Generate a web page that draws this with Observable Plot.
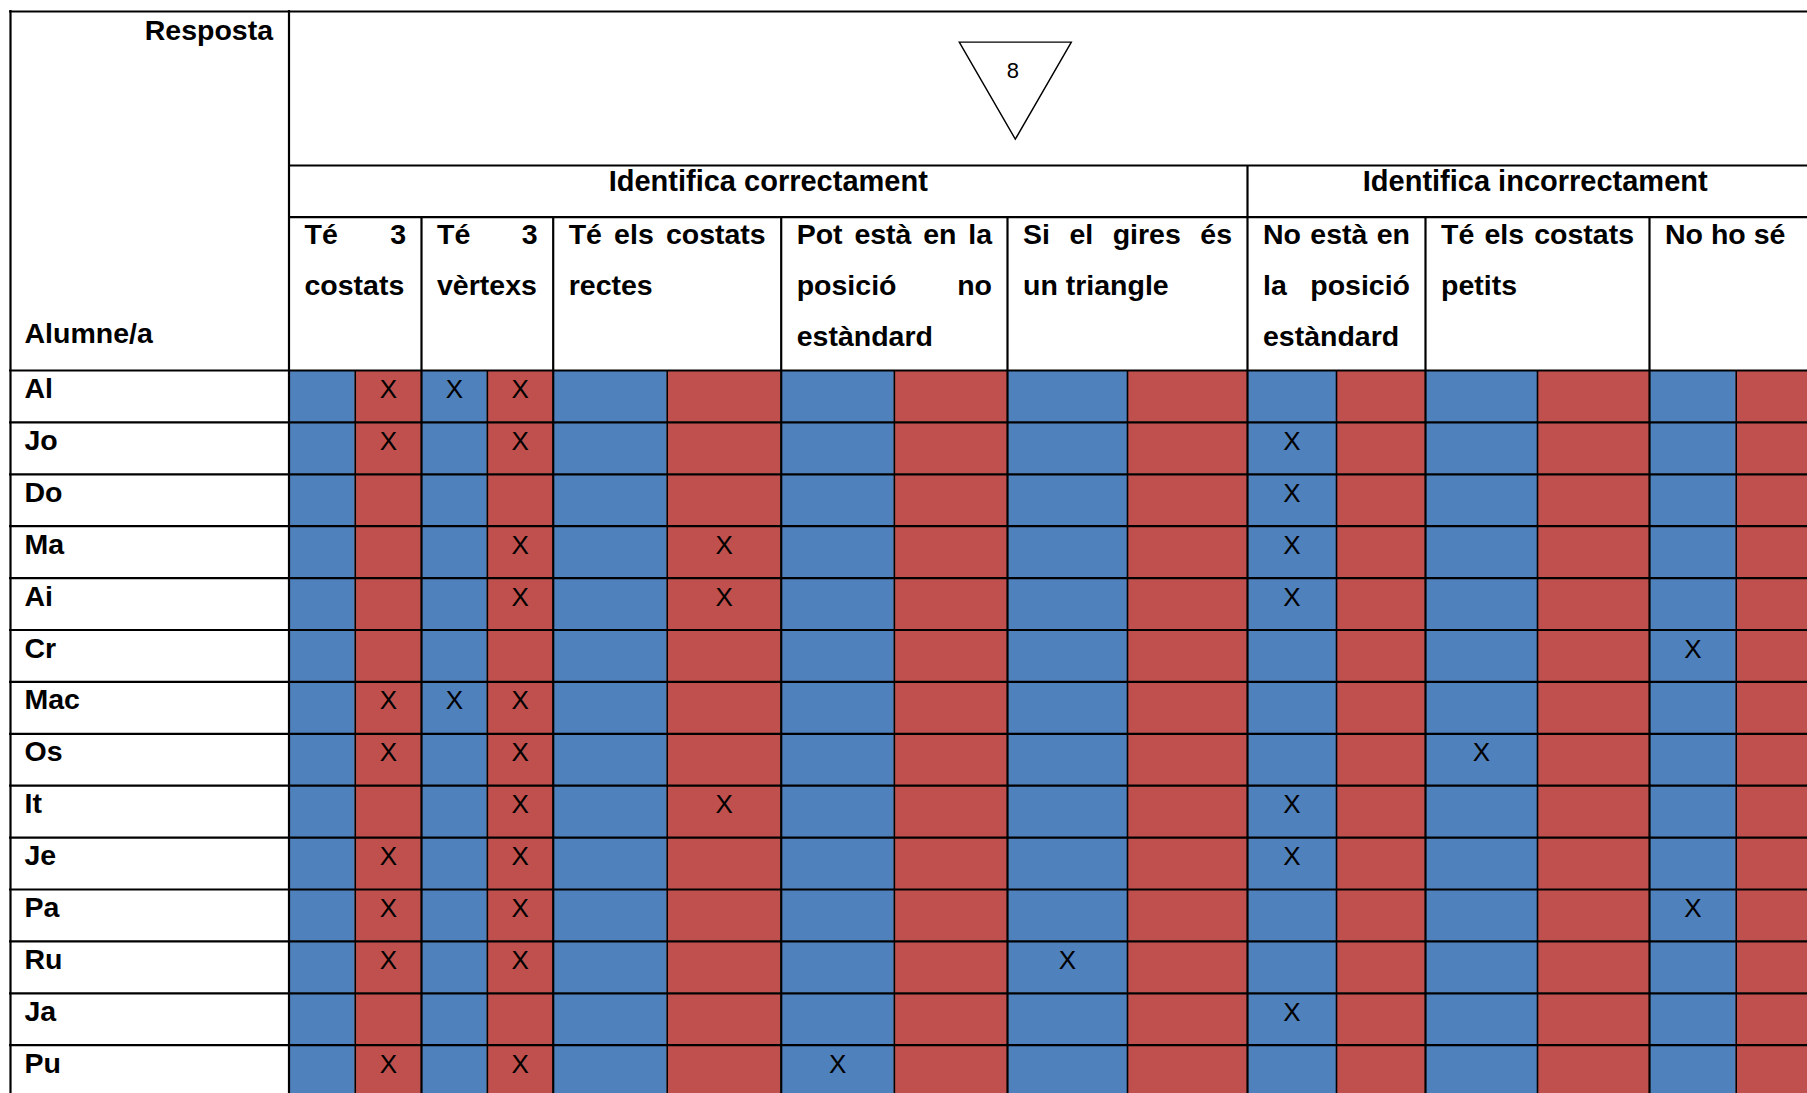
<!DOCTYPE html>
<html>
<head>
<meta charset="utf-8">
<script src="https://cdn.jsdelivr.net/npm/d3@7"></script>
<script src="https://cdn.jsdelivr.net/npm/@observablehq/plot@0.6"></script>
<style>
  html, body { margin: 0; padding: 0; background: #fff; overflow: hidden; }
  #chart { width: 1807px; height: 1093px; overflow: hidden; }
</style>
</head>
<body>
<div id="chart"></div>
<script>
// ---------------- DATA ----------------
const colHeader = "Resposta";
const rowHeader = "Alumne/a";
const itemShape = "triangle";
const itemLabel = "8";

const students = ["Al", "Jo", "Do", "Ma", "Ai", "Cr", "Mac", "Os", "It", "Je", "Pa", "Ru", "Ja", "Pu"];

const groupTitles = ["Identifica correctament", "Identifica incorrectament"];

const criteria = [
  "Té 3 costats",
  "Té 3 vèrtexs",
  "Té els costats rectes",
  "Pot està en la posició no estàndard",
  "Si el gires és un triangle",
  "No està en la posició estàndard",
  "Té els costats petits",
  "No ho sé"
];
const criterionGroup = [0, 0, 0, 0, 0, 1, 1, 1];
// line breaks as printed in the header cells
const criterionLines = [
  ["Té 3", "costats"],
  ["Té 3", "vèrtexs"],
  ["Té els costats", "rectes"],
  ["Pot està en la", "posició no", "estàndard"],
  ["Si el gires és", "un triangle"],
  ["No està en", "la posició", "estàndard"],
  ["Té els costats", "petits"],
  ["No ho sé"]
];

// each criterion column is split in two halves
const halves = ["blau", "vermell"];

// cells marked with an X: [student, criterion, half]
const answers = [
  ["Al", "Té 3 costats", "vermell"], ["Al", "Té 3 vèrtexs", "blau"], ["Al", "Té 3 vèrtexs", "vermell"],
  ["Jo", "Té 3 costats", "vermell"], ["Jo", "Té 3 vèrtexs", "vermell"], ["Jo", "No està en la posició estàndard", "blau"],
  ["Do", "No està en la posició estàndard", "blau"],
  ["Ma", "Té 3 vèrtexs", "vermell"], ["Ma", "Té els costats rectes", "vermell"], ["Ma", "No està en la posició estàndard", "blau"],
  ["Ai", "Té 3 vèrtexs", "vermell"], ["Ai", "Té els costats rectes", "vermell"], ["Ai", "No està en la posició estàndard", "blau"],
  ["Cr", "No ho sé", "blau"],
  ["Mac", "Té 3 costats", "vermell"], ["Mac", "Té 3 vèrtexs", "blau"], ["Mac", "Té 3 vèrtexs", "vermell"],
  ["Os", "Té 3 costats", "vermell"], ["Os", "Té 3 vèrtexs", "vermell"], ["Os", "Té els costats petits", "blau"],
  ["It", "Té 3 vèrtexs", "vermell"], ["It", "Té els costats rectes", "vermell"], ["It", "No està en la posició estàndard", "blau"],
  ["Je", "Té 3 costats", "vermell"], ["Je", "Té 3 vèrtexs", "vermell"], ["Je", "No està en la posició estàndard", "blau"],
  ["Pa", "Té 3 costats", "vermell"], ["Pa", "Té 3 vèrtexs", "vermell"], ["Pa", "No ho sé", "blau"],
  ["Ru", "Té 3 costats", "vermell"], ["Ru", "Té 3 vèrtexs", "vermell"], ["Ru", "Si el gires és un triangle", "blau"],
  ["Ja", "No està en la posició estàndard", "blau"],
  ["Pu", "Té 3 costats", "vermell"], ["Pu", "Té 3 vèrtexs", "vermell"], ["Pu", "Pot està en la posició no estàndard", "blau"]
];

// ---------------- LAYOUT / STYLE ----------------
const W = 1807, H = 1093;
const FONT = "'Liberation Sans', Arial, Helvetica, sans-serif";
const FS = 28.5;      // bold header / label size
const XFS = 26;       // X mark size
const halfColors = ["#4F81BD", "#C0504D"];
const L = {
  left: 10, top: 11, labelRight: 288.5,
  figureBottom: 165, groupBottom: 216.7, headBottom: 370, rowH: 51.9,
  critWidths: [132.5, 131.7, 228, 226.3, 240, 178, 224, 173.4],
  padL: 15.5, padR: 15.5,
  lineBase: [243.5, 294.3, 345],
  rowHeaderBase: 342,
  rowBase: 27.5,
  respostaBase: 39, groupBase: 190.5,
  item: { fx: 0.4735, cy: 74, r: 41.6 }   // triangle position inside the "Resposta" cell
};

// column boundaries
const critX0 = [], critX1 = [];
{
  let x = L.labelRight;
  L.critWidths.forEach((w) => { critX0.push(x); x += w; critX1.push(x); });
}
const tableRight = critX1[critX1.length - 1];
const rowTop = (i) => L.headBottom + i * L.rowH;
const bodyBottom = rowTop(students.length);
const critIndex = new Map(criteria.map((c, i) => [c, i]));
const studentIndex = new Map(students.map((s, i) => [s, i]));
const halfX = (k, j) => {
  const mid = (critX0[k] + critX1[k]) / 2;
  return j === 0 ? [critX0[k], mid] : [mid, critX1[k]];
};

// text measuring for justified header lines
const ctx = document.createElement("canvas").getContext("2d");
ctx.font = `bold ${FS}px 'Liberation Sans'`;
const textW = (t) => ctx.measureText(t).width;

// ---------------- DERIVED MARK DATA ----------------
const cells = [];
students.forEach((s, r) => criteria.forEach((c, k) => halves.forEach((h, j) => {
  const [x1, x2] = halfX(k, j);
  cells.push({ s, c, h, x1, x2, y1: rowTop(r), y2: rowTop(r) + L.rowH });
})));

const xMarks = answers.map(([s, c, h]) => {
  const k = critIndex.get(c), j = halves.indexOf(h), r = studentIndex.get(s);
  const [x1, x2] = halfX(k, j);
  return { x: (x1 + x2) / 2, y: rowTop(r) + L.rowBase, text: "X" };
});

const studentLabels = students.map((s, r) => ({ x: L.left + 14, y: rowTop(r) + L.rowBase, text: s }));

const headerWords = [];
criterionLines.forEach((lines, k) => {
  const left = critX0[k] + L.padL, right = critX1[k] - L.padR;
  lines.forEach((line, li) => {
    const y = L.lineBase[li];
    const words = line.split(" ");
    const justify = li < lines.length - 1 && words.length > 1;
    if (!justify) { headerWords.push({ x: left, y, text: line }); return; }
    const total = d3.sum(words, textW);
    const gap = (right - left - total) / (words.length - 1);
    let x = left;
    words.forEach((w) => { headerWords.push({ x, y, text: w }); x += textW(w) + gap; });
  });
});

const groupSpans = groupTitles.map((g, gi) => {
  const ks = criterionGroup.map((v, k) => v === gi ? k : -1).filter((k) => k >= 0);
  return { text: g, x0: critX0[ks[0]], x1: critX1[ks[ks.length - 1]] };
});
const groupLabels = groupSpans.map((g) => ({ x: (g.x0 + g.x1) / 2, y: L.groupBase, text: g.text }));

const item = [{ x: L.labelRight + L.item.fx * (tableRight - L.labelRight), y: L.item.cy, label: itemLabel }];

// grid lines
const hThick = [
  { y: L.top, x1: L.left - 1, x2: tableRight },
  { y: L.figureBottom, x1: L.labelRight, x2: tableRight },
  { y: L.groupBottom, x1: L.labelRight, x2: tableRight },
  ...d3.range(students.length + 1).map((i) => ({ y: rowTop(i), x1: L.left - 1, x2: tableRight }))
];
const vThick = [
  { x: L.left, y1: L.top - 1, y2: bodyBottom },
  { x: L.labelRight, y1: L.top - 1, y2: bodyBottom },
  ...groupSpans.slice(1).map((g) => ({ x: g.x0, y1: L.figureBottom, y2: bodyBottom })),
  ...critX0.slice(1).filter((x) => !groupSpans.some((g) => g.x0 === x)).map((x) => ({ x, y1: L.groupBottom, y2: bodyBottom })),
  { x: tableRight, y1: L.top - 1, y2: bodyBottom }
];
const vThin = criteria.map((c, k) => ({ x: (critX0[k] + critX1[k]) / 2, y1: L.headBottom, y2: bodyBottom }));

// ---------------- PLOT ----------------
const chart = Plot.plot({
  width: W,
  height: H,
  margin: 0,
  x: { type: "linear", domain: [0, W], range: [0, W], axis: null },
  y: { type: "linear", domain: [0, H], range: [0, H], axis: null },
  color: { type: "ordinal", domain: halves, range: halfColors },
  style: { fontFamily: FONT, background: "#fff", overflow: "hidden" },
  marks: [
    Plot.rect(cells, { x1: "x1", x2: "x2", y1: "y1", y2: "y2", fill: "h" }),
    Plot.ruleX(vThin, { x: "x", y1: "y1", y2: "y2", stroke: "#000", strokeWidth: 1.6 }),
    Plot.ruleY(hThick, { y: "y", x1: "x1", x2: "x2", stroke: "#000", strokeWidth: 2.2 }),
    Plot.ruleX(vThick, { x: "x", y1: "y1", y2: "y2", stroke: "#000", strokeWidth: 2.2 }),
    Plot.dot(item, { x: "x", y: "y", symbol: itemShape, r: L.item.r, rotate: 180, fill: "none", stroke: "#000", strokeWidth: 1.4 }),
    Plot.text(item, { x: "x", y: "y", text: "label", fontSize: 22, dx: -2.5, dy: -3.5, lineAnchor: "middle", fill: "#000", fontFamily: FONT }),
    Plot.text([{ x: L.labelRight - 16, y: L.respostaBase, text: colHeader }], { x: "x", y: "y", text: "text", textAnchor: "end", lineAnchor: "bottom", fontWeight: "bold", fontSize: FS, fill: "#000", fontFamily: FONT }),
    Plot.text([{ x: L.left + 14, y: L.rowHeaderBase, text: rowHeader }], { x: "x", y: "y", text: "text", textAnchor: "start", lineAnchor: "bottom", fontWeight: "bold", fontSize: FS, fill: "#000", fontFamily: FONT }),
    Plot.text(groupLabels, { x: "x", y: "y", text: "text", textAnchor: "middle", lineAnchor: "bottom", fontWeight: "bold", fontSize: 29, fill: "#000", fontFamily: FONT }),
    Plot.text(headerWords, { x: "x", y: "y", text: "text", textAnchor: "start", lineAnchor: "bottom", fontWeight: "bold", fontSize: FS, fill: "#000", fontFamily: FONT }),
    Plot.text(studentLabels, { x: "x", y: "y", text: "text", textAnchor: "start", lineAnchor: "bottom", fontWeight: "bold", fontSize: FS, fill: "#000", fontFamily: FONT }),
    Plot.text(xMarks, { x: "x", y: "y", text: "text", textAnchor: "middle", lineAnchor: "bottom", fontWeight: "normal", fontSize: XFS, fill: "#000", fontFamily: FONT })
  ]
});
document.getElementById("chart").appendChild(chart);
</script>
</body>
</html>
